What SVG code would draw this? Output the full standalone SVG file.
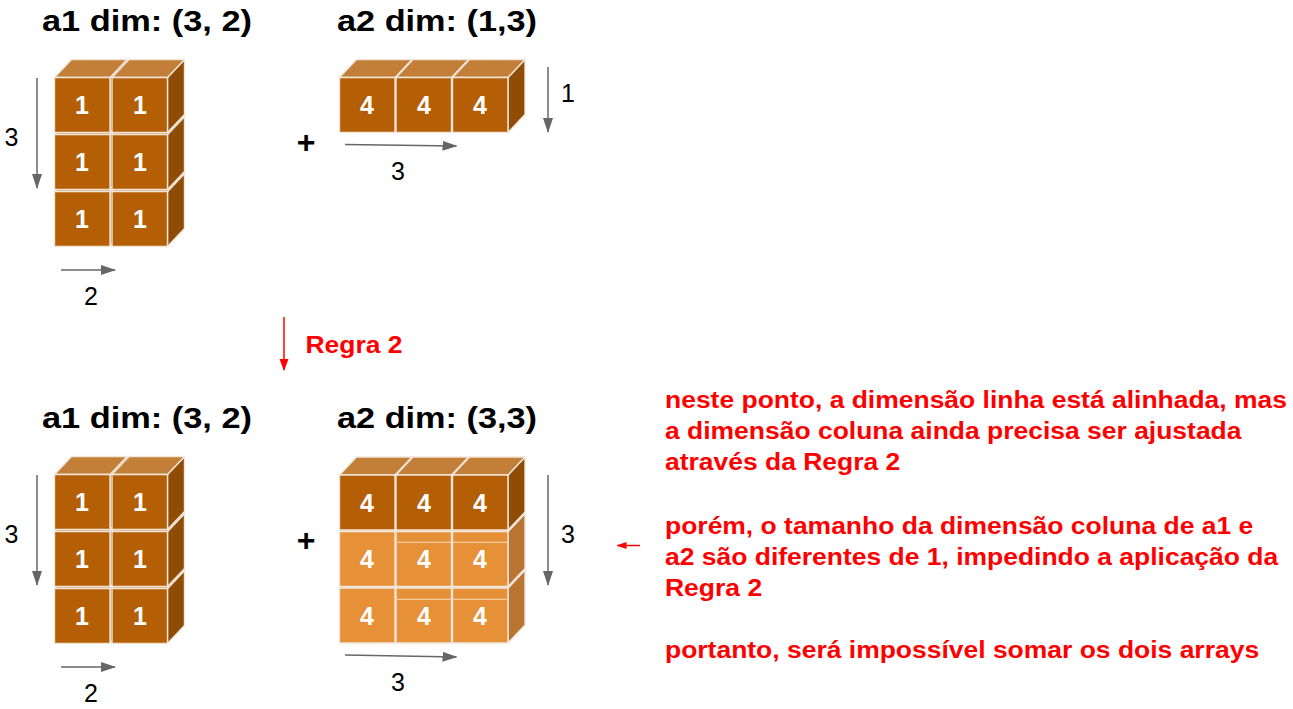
<svg xmlns="http://www.w3.org/2000/svg" xmlns:xlink="http://www.w3.org/1999/xlink" width="1293" height="709" viewBox="0 0 1293 709">
<style>
.fd{fill:#b45f06}.td{fill:#c37f38}.sd{fill:#904c05}
.fl{fill:#e69138}.tl{fill:#eba760}.sl{fill:#b87430}
.cb path,.cb rect{stroke:#f1e6da;stroke-width:1.4;stroke-linejoin:round}
.num{font-family:"Liberation Sans",Arial,sans-serif;font-weight:bold;font-size:25px;fill:#fff;text-anchor:middle}
.title{font-family:"Liberation Sans",Arial,sans-serif;font-weight:bold;font-size:30px;fill:#000}
.lbl{font-family:"Liberation Sans",Arial,sans-serif;font-size:25px;fill:#000;text-anchor:middle}
.plus{font-family:"Liberation Sans",Arial,sans-serif;font-weight:bold;font-size:32px;fill:#000;text-anchor:middle}
.red{font-family:"Liberation Sans",Arial,sans-serif;font-weight:bold;font-size:23px;fill:#ff0000}
.ga{stroke:#666;stroke-width:1.5;fill:none;marker-end:url(#ag)}
.ra{stroke:#ff0000;stroke-width:1.5;fill:none}
.seam{stroke:#f6d9b8;stroke-width:1}
</style>
<defs>
<marker id="ag" markerUnits="userSpaceOnUse" markerWidth="15" markerHeight="10" refX="14" refY="5" orient="auto"><path d="M0,0 L15,5 L0,10 Z" fill="#666"/></marker>
<marker id="ar" markerUnits="userSpaceOnUse" markerWidth="12" markerHeight="10" refX="11" refY="5" orient="auto"><path d="M0,0.5 L12,5 L0,9.5 Z" fill="#ff0000"/></marker>
<marker id="ar2" markerUnits="userSpaceOnUse" markerWidth="10" markerHeight="8" refX="9" refY="4" orient="auto"><path d="M0,0.5 L10,4 L0,7.5 Z" fill="#ff0000"/></marker>
<g id="cubeD" class="cb">
<path class="sd" d="M55.5,0 L72.5,-18 L72.5,37 L55.5,55 Z"/>
<path class="td" d="M0,0 L17,-18 L72.5,-18 L55.5,0 Z"/>
<rect class="fd" width="55.5" height="55"/>
</g>
<g id="cubeL" class="cb">
<path class="sl" d="M55.5,0 L72.5,-18 L72.5,37 L55.5,55 Z"/>
<path class="tl" d="M0,0 L17,-18 L72.5,-18 L55.5,0 Z"/>
<rect class="fl" width="55.5" height="55"/>
</g>
</defs>
<rect width="1293" height="709" fill="#fff"/>

<g id="a1-top">
<text class="title" x="42" y="31" textLength="210" lengthAdjust="spacingAndGlyphs">a1 dim: (3, 2)</text>
<use href="#cubeD" x="54.5" y="191.5"/><use href="#cubeD" x="112" y="191.5"/>
<use href="#cubeD" x="54.5" y="134.5"/><use href="#cubeD" x="112" y="134.5"/>
<use href="#cubeD" x="54.5" y="77.5"/><use href="#cubeD" x="112" y="77.5"/>
<text class="num" x="82" y="114">1</text><text class="num" x="140" y="114">1</text>
<text class="num" x="82" y="171">1</text><text class="num" x="140" y="171">1</text>
<text class="num" x="82" y="228">1</text><text class="num" x="140" y="228">1</text>
<text class="lbl" x="11.5" y="145.5">3</text>
<text class="lbl" x="91" y="305">2</text>
</g>

<g id="plus-top"><text class="plus" x="306" y="153">+</text></g>

<g id="a2-top">
<text class="title" x="337" y="31" textLength="200" lengthAdjust="spacingAndGlyphs">a2 dim: (1,3)</text>
<use href="#cubeD" x="339.5" y="77.5"/><use href="#cubeD" x="396" y="77.5"/><use href="#cubeD" x="452.5" y="77.5"/>
<text class="num" x="367" y="114">4</text><text class="num" x="424" y="114">4</text><text class="num" x="480" y="114">4</text>
<text class="lbl" x="568" y="102">1</text>
<text class="lbl" x="398" y="179.5">3</text>
</g>

<g id="rule-label"><text class="red" x="305.5" y="353.3" textLength="97" lengthAdjust="spacingAndGlyphs">Regra 2</text></g>

<g id="a1-bottom">
<text class="title" x="42" y="428" textLength="210" lengthAdjust="spacingAndGlyphs">a1 dim: (3, 2)</text>
<use href="#cubeD" x="54.5" y="588.5"/><use href="#cubeD" x="112" y="588.5"/>
<use href="#cubeD" x="54.5" y="531.5"/><use href="#cubeD" x="112" y="531.5"/>
<use href="#cubeD" x="54.5" y="474.5"/><use href="#cubeD" x="112" y="474.5"/>
<text class="num" x="82" y="511">1</text><text class="num" x="140" y="511">1</text>
<text class="num" x="82" y="568">1</text><text class="num" x="140" y="568">1</text>
<text class="num" x="82" y="625">1</text><text class="num" x="140" y="625">1</text>
<text class="lbl" x="11.5" y="543">3</text>
<text class="lbl" x="91" y="702">2</text>
</g>

<g id="plus-bottom"><text class="plus" x="306" y="551">+</text></g>

<g id="a2-bottom">
<text class="title" x="337" y="428" textLength="200" lengthAdjust="spacingAndGlyphs">a2 dim: (3,3)</text>
<use href="#cubeL" x="339.5" y="588"/><use href="#cubeL" x="396" y="588"/><use href="#cubeL" x="452.5" y="588"/>
<use href="#cubeL" x="339.5" y="531.5"/><use href="#cubeL" x="396" y="531.5"/><use href="#cubeL" x="452.5" y="531.5"/>
<use href="#cubeD" x="339.5" y="475"/><use href="#cubeD" x="396" y="475"/><use href="#cubeD" x="452.5" y="475"/>
<line class="seam" x1="397" y1="542.3" x2="507" y2="542.3"/>
<line class="seam" x1="397" y1="599.3" x2="507" y2="599.3"/>
<text class="num" x="367" y="511.5">4</text><text class="num" x="424" y="511.5">4</text><text class="num" x="480" y="511.5">4</text>
<text class="num" x="367" y="568">4</text><text class="num" x="424" y="568">4</text><text class="num" x="480" y="568">4</text>
<text class="num" x="367" y="624.5">4</text><text class="num" x="424" y="624.5">4</text><text class="num" x="480" y="624.5">4</text>
<text class="lbl" x="568" y="543.3">3</text>
<text class="lbl" x="398" y="690.5">3</text>
</g>

<g id="note">
<text class="red" x="665" y="407.5" textLength="622" lengthAdjust="spacingAndGlyphs">neste ponto, a dimensão linha está alinhada, mas</text>
<text class="red" x="665" y="438.5" textLength="576.5" lengthAdjust="spacingAndGlyphs">a dimensão coluna ainda precisa ser ajustada</text>
<text class="red" x="665" y="469.5" textLength="235.3" lengthAdjust="spacingAndGlyphs">através da Regra 2</text>
<text class="red" x="665" y="533.5" textLength="588.2" lengthAdjust="spacingAndGlyphs">porém, o tamanho da dimensão coluna de a1 e</text>
<text class="red" x="665" y="564.5" textLength="613.2" lengthAdjust="spacingAndGlyphs">a2 são diferentes de 1, impedindo a aplicação da</text>
<text class="red" x="665" y="595.5" textLength="97.1" lengthAdjust="spacingAndGlyphs">Regra 2</text>
<text class="red" x="665" y="657.5" textLength="594.1" lengthAdjust="spacingAndGlyphs">portanto, será impossível somar os dois arrays</text>
</g>

<g id="connectors">
<line class="ga" x1="37" y1="78" x2="37" y2="188"/>
<line class="ga" x1="61" y1="270" x2="115" y2="270"/>
<line class="ga" x1="548" y1="67" x2="548" y2="132"/>
<line class="ga" x1="345" y1="144.5" x2="456.5" y2="146"/>
<line class="ga" x1="37" y1="475" x2="37" y2="585"/>
<line class="ga" x1="61" y1="667" x2="115" y2="667"/>
<line class="ga" x1="548" y1="475" x2="548" y2="585"/>
<line class="ga" x1="345" y1="655" x2="456.5" y2="657"/>
<line class="ra" x1="284" y1="317" x2="284" y2="370" marker-end="url(#ar)"/>
<line class="ra" x1="640" y1="545.5" x2="617.5" y2="545.5" marker-end="url(#ar2)"/>
</g>
</svg>
